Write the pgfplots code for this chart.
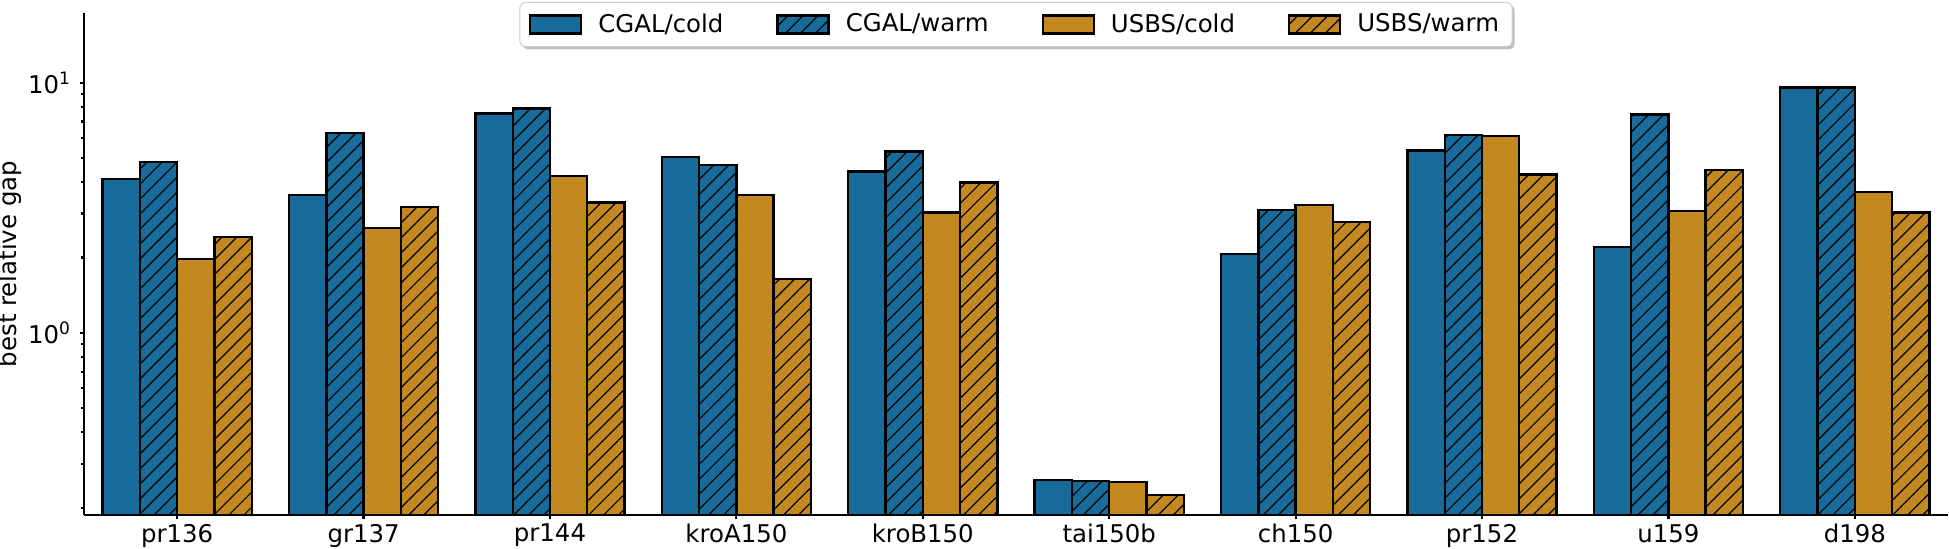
\documentclass[border=0pt]{standalone}
\usepackage{fontspec}
\setmainfont{DejaVu Sans}
\usepackage{pgfplots}
\pgfplotsset{compat=1.18}
\usepackage{pgfplotstable}
\usetikzlibrary{patterns.meta,shadows}
\definecolor{cblue}{RGB}{23,108,156}
\definecolor{corange}{RGB}{195,136,32}
\definecolor{legframe}{RGB}{204,204,204}
\makeatletter
\tikzset{no preactions/.code={\let\tikz@preactions\pgfutil@empty}}
\makeatother
\pgfplotsset{
  mylegend/.style={legend image code/.code={\draw[##1, sharp corners, no preactions] (0pt,-4.5pt) rectangle (25.5pt,4.5pt);}},
  mybar/.style={ybar, bar width=0.2, draw=black, line width=1.2pt, mylegend},
  myhatch/.style={postaction={pattern={Lines[angle=45,distance=5.3pt,line width=0.6pt]}}},
}
\pgfplotstableread{
x cc cw uc uw
0 4.13 4.83 1.975 2.42
1 3.56 6.31 2.63 3.19
2 7.53 7.88 4.24 3.32
3 5.05 4.70 3.56 1.64
4 4.41 5.30 3.03 3.99
5 0.258 0.255 0.253 0.225
6 2.07 3.10 3.25 2.78
7 5.35 6.19 6.12 4.30
8 2.20 7.46 3.07 4.48
9 9.56 9.56 3.66 3.03
}\datatable
\begin{document}
\fontsize{12.2pt}{14.6pt}\selectfont
\begin{tikzpicture}
\useasboundingbox (-42pt,-17pt) rectangle (932.5pt,257.5pt);
\begin{axis}[
  scale only axis, width=932pt, height=251pt,
  ymode=log, log origin y=infty,
  ymin=0.187, ymax=19.0, xmin=-0.5, xmax=9.5,
  axis lines=left, axis line style={-, line width=1.3pt},
  tick align=outside, tick style={line width=1.1pt, black},
  major tick length=2.2pt, minor tick length=1.5pt,
  xtick={0,...,9},
  xticklabels={pr136,gr137,pr144,kroA150,kroB150,tai150b,ch150,pr152,u159,d198},
  xticklabel style={yshift=2pt},
  ytick={1,10},
  yticklabels={10\textsuperscript{0},10\textsuperscript{1}},
  minor ytick={0.2,0.3,0.4,0.5,0.6,0.7,0.8,0.9,2,3,4,5,6,7,8,9},
  every axis y label/.style={at={(axis description cs:-0.0397,0.5)}, anchor=center, rotate=90},
  ylabel={best relative gap},
  legend columns=4,
  legend style={at={(0.5,1)}, anchor=north, yshift=5.5pt,
    draw=legframe, line width=0.5pt, rounded corners=2.5pt, fill=white,
    inner xsep=4.5pt, inner ysep=3.5pt,
    drop shadow={shadow xshift=1.3pt,shadow yshift=-1.3pt,opacity=0.5,fill=gray},
    /tikz/every odd column/.style={column sep=6pt},
    /tikz/every even column/.style={column sep=24.5pt}},
]
\addplot[mybar, bar shift=-0.3, fill=cblue] table[x=x,y=cc]{\datatable};
\addplot[mybar, bar shift=-0.1, fill=cblue, myhatch] table[x=x,y=cw]{\datatable};
\addplot[mybar, bar shift=0.1, fill=corange] table[x=x,y=uc]{\datatable};
\addplot[mybar, bar shift=0.3, fill=corange, myhatch] table[x=x,y=uw]{\datatable};
\legend{CGAL/cold,CGAL/warm,USBS/cold,USBS/warm}
\end{axis}
\end{tikzpicture}
\end{document}
